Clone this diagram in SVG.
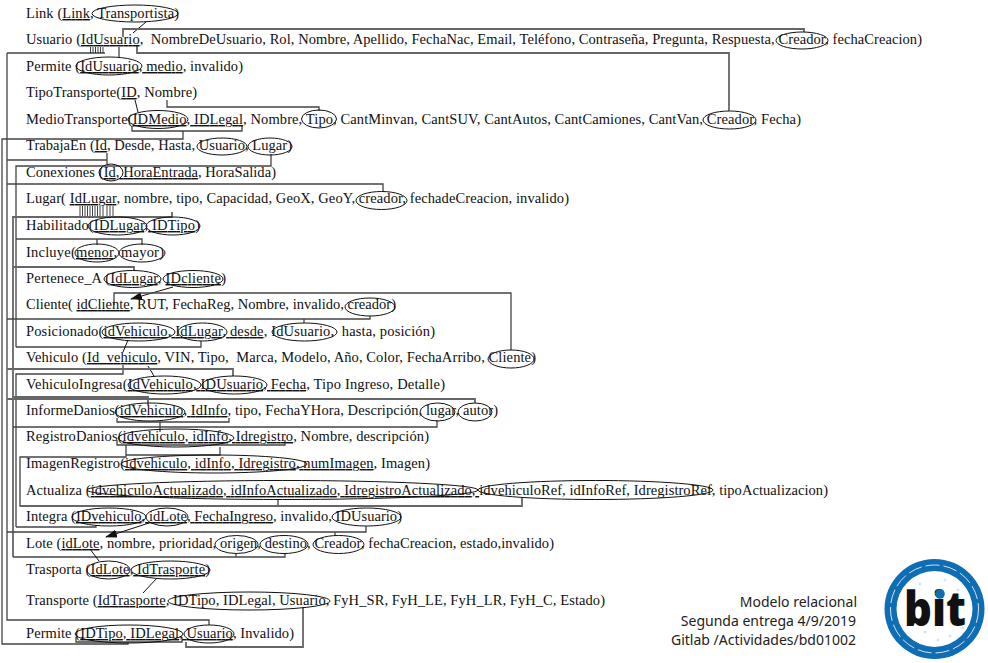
<svg xmlns="http://www.w3.org/2000/svg" width="988" height="663" viewBox="0 0 988 663">
<style>
text{font-family:"Liberation Serif","Times New Roman",serif;font-size:14.5px;fill:#111}
.u{text-decoration:underline}
ellipse{fill:none;stroke:#111;stroke-width:1}
.c path{fill:none;stroke:#444;stroke-width:1.3}
.c .k{stroke:#111;stroke-width:1}
.c .g{stroke:#666;stroke-width:1.8}
.c .h{stroke:#111;stroke-width:.8}
.n{font-family:"Noto Sans","Open Sans",sans-serif;font-size:14px;text-anchor:end;fill:#222}
.d{fill:#d5e6f3}
</style>
<defs><marker id="a" markerWidth="12" markerHeight="8" refX="11" refY="4" orient="auto" markerUnits="userSpaceOnUse"><path d="M0 0L12 4L0 8Z" fill="#111"/></marker></defs>
<rect width="988" height="663" fill="#fff"/>
<g class="c" id="connectors">
<path class="k" d="M146 22L133 33"/>
<path class="g" d="M123 37V29H804V32"/>
<path class="g" d="M137 45V53H729V111"/>
<path d="M7 53H105M7 53V620H209V625"/>
<path class="h" d="M90.5 47V53M93 47V53M95.5 47V53M98 47V53M100.5 47V53M103 47V53"/>
<path d="M119 47V57"/>
<path class="k" d="M135 100L138 112"/>
<path d="M167 100V107H319V111"/>
<path d="M132 126V131H242V126"/>
<path d="M183 131V139H2V644H128V642"/>
<path d="M7 160H107M107 153V164"/>
<path d="M16 347V166H271V154"/>
<path d="M7 184H383V192"/>
<path class="h" d="M80 206V216M82.5 206V216M85 206V216M87.5 206V216M90 206V216M92.5 206V216M95 206V216M97.5 206V216M100 206V216M103 206V216M107 206V216M110 206V216M113 206V216"/>
<path class="g" d="M13 557V217H172V212"/>
<path d="M16 239H142V245M97 239V245"/>
<path class="g" d="M13 267H134V270"/>
<path class="k" d="M173 287L131 299" marker-end="url(#a)"/>
<path d="M114 305V293H511V350"/>
<path d="M7 319H370V316M304 319V323"/>
<path d="M16 347H201V341"/>
<path class="k" d="M128 340L123 352"/>
<path d="M16 527V374H123V365"/>
<path class="k" d="M148 366L154 376"/>
<path class="g" d="M7 369H233V376"/>
<path class="g" d="M13 397H148V405"/>
<path class="g" d="M7 399H475V403"/>
<path d="M117 418V422H229V418"/>
<path d="M13 427H437V420M160 422V432"/>
<path d="M117 440V445H285V440"/>
<path d="M126 445V457H20V506H278V499"/>
<path d="M126 455H220V447"/>
<path class="g" d="M20 506H522V498"/>
<path d="M16 527H96V525"/>
<path d="M7 532H366V526M335 532V536"/>
<path class="k" d="M149 523L106 537" marker-end="url(#a)"/>
<path d="M13 557H285V553M236 557V553"/>
<path class="k" d="M90 549L99 561"/>
<path class="k" d="M157 578L143 593"/>
<path class="g" d="M303 607V647H186V642"/>
<path d="M76 637V642H182V637"/>
</g>
<g id="link"><text x="26" y="18" textLength="153">Link (<tspan class="u">Link</tspan>, Transportista)</text><ellipse cx="135" cy="13.5" rx="43" ry="8.5"/></g>
<g id="usuario"><text x="26" y="44" textLength="896" xml:space="preserve">Usuario (<tspan class="u">IdUsuario</tspan>,  NombreDeUsuario, Rol, Nombre, Apellido, FechaNac, Email, Teléfono, Contraseña, Pregunta, Respuesta, Creador, fechaCreacion)</text><ellipse cx="802" cy="40.5" rx="26" ry="8.5"/></g>
<g id="permite1"><text x="26" y="71" textLength="217">Permite (<tspan class="u">IdUsuario, medio</tspan>, invalido)</text><ellipse cx="109" cy="66" rx="33" ry="9"/></g>
<g id="tipotransporte"><text x="26" y="97" textLength="171">TipoTransporte(<tspan class="u">ID</tspan>, Nombre)</text></g>
<g id="mediotransporte"><text x="26" y="124" textLength="775">MedioTransporte(<tspan class="u">IDMedio, IDLegal</tspan>, Nombre, Tipo, CantMinvan, CantSUV, CantAutos, CantCamiones, CantVan, Creador, Fecha)</text><ellipse cx="158" cy="119.5" rx="30" ry="9"/><ellipse cx="319" cy="119" rx="17.5" ry="9"/><ellipse cx="729.5" cy="120" rx="26.5" ry="9"/></g>
<g id="trabajaen"><text x="26" y="150" textLength="266">TrabajaEn (<tspan class="u">Id</tspan>, Desde, Hasta, Usuario, Lugar)</text><ellipse cx="222" cy="146.5" rx="25" ry="8.5"/><ellipse cx="270" cy="146.5" rx="22" ry="8.5"/></g>
<g id="conexiones"><text x="26" y="177" textLength="250">Conexiones (<tspan class="u">Id, HoraEntrada</tspan>, HoraSalida)</text><ellipse cx="111" cy="172.5" rx="12" ry="8.5"/></g>
<g id="lugar"><text x="26" y="203" textLength="543">Lugar( <tspan class="u">IdLugar</tspan>, nombre, tipo, Capacidad, GeoX, GeoY, creador, fechadeCreacion, invalido)</text><ellipse cx="381.5" cy="200.5" rx="25.5" ry="9"/></g>
<g id="habilitado"><text x="26" y="230" textLength="174">Habilitado(<tspan class="u">IDLugar, IDTipo</tspan>)</text><ellipse cx="117.5" cy="226" rx="29.5" ry="9"/><ellipse cx="173" cy="226" rx="27" ry="9"/></g>
<g id="incluye"><text x="26" y="257" textLength="138">Incluye(<tspan class="u">menor</tspan>, mayor)</text><ellipse cx="97" cy="253" rx="22" ry="9"/><ellipse cx="142" cy="253" rx="23" ry="9"/></g>
<g id="pertenece"><text x="26" y="283" textLength="200">Pertenece_A (<tspan class="u">IdLugar</tspan>, <tspan class="u">IDcliente</tspan>)</text><ellipse cx="132.5" cy="279" rx="28.5" ry="8.5"/><ellipse cx="193" cy="279" rx="30" ry="8.5"/></g>
<g id="cliente"><text x="26" y="309" textLength="370">Cliente( <tspan class="u">idCliente</tspan>, RUT, FechaReg, Nombre, invalido, creador)</text><ellipse cx="370" cy="307" rx="25" ry="9"/></g>
<g id="posicionado"><text x="26" y="336" textLength="409" xml:space="preserve">Posicionado(<tspan class="u">idVehiculo, IdLugar, desde</tspan>, IdUsuario,  hasta, posición)</text><ellipse cx="138.5" cy="332" rx="36.5" ry="9"/><ellipse cx="202.5" cy="332" rx="24.5" ry="9"/><ellipse cx="304.5" cy="332" rx="32.5" ry="9"/></g>
<g id="vehiculo"><text x="26" y="362" textLength="510" xml:space="preserve">Vehiculo (<tspan class="u">Id_vehiculo</tspan>, VIN, Tipo,  Marca, Modelo, Año, Color, FechaArribo, Cliente)</text><ellipse cx="511" cy="359" rx="23" ry="9"/></g>
<g id="vehiculoingresa"><text x="26" y="389" textLength="419">VehiculoIngresa(<tspan class="u">IdVehiculo, IDUsuario, Fecha</tspan>, Tipo Ingreso, Detalle)</text><ellipse cx="164.5" cy="385" rx="36.5" ry="9"/><ellipse cx="234.5" cy="385" rx="32.5" ry="9"/></g>
<g id="informedanios"><text x="26" y="415" textLength="472">InformeDanios(<tspan class="u">idVehiculo, IdInfo</tspan>, tipo, FechaYHora, Descripción, lugar, autor)</text><ellipse cx="150" cy="412" rx="35" ry="9"/><ellipse cx="437.5" cy="412" rx="17.5" ry="9"/><ellipse cx="475" cy="412" rx="17" ry="9"/></g>
<g id="registrodanios"><text x="26" y="441" textLength="403">RegistroDanios(<tspan class="u">idvehiculo, idInfo, Idregistro</tspan>, Nombre, descripción)</text><ellipse cx="176" cy="438" rx="58" ry="9"/></g>
<g id="imagenregistro"><text x="26" y="468" textLength="404">ImagenRegistro(<tspan class="u">idvehiculo, idInfo, Idregistro, numImagen</tspan>, Imagen)</text><ellipse cx="214" cy="464" rx="93" ry="9"/></g>
<g id="actualiza"><text x="26" y="495" textLength="802">Actualiza (<tspan class="u">idvehiculoActualizado, idInfoActualizado, IdregistroActualizado, </tspan>idvehiculoRef, idInfoRef, IdregistroRef, tipoActualizacion)</text><ellipse cx="282.5" cy="490" rx="195.5" ry="9.5"/><ellipse cx="595.5" cy="490" rx="117.5" ry="9.5"/></g>
<g id="integra"><text x="26" y="521" textLength="376">Integra (<tspan class="u">IDvehiculo, idLote, FechaIngreso</tspan>, invalido, IDUsuario)</text><ellipse cx="109" cy="517" rx="37" ry="9"/><ellipse cx="167" cy="517" rx="21" ry="9"/><ellipse cx="366.5" cy="517" rx="34.5" ry="9"/></g>
<g id="lote"><text x="26" y="548" textLength="528">Lote (<tspan class="u">idLote</tspan>, nombre, prioridad, origen, destino, Creador, fechaCreacion, estado,invalido)</text><ellipse cx="236.5" cy="544.5" rx="21.5" ry="9"/><ellipse cx="284" cy="544.5" rx="24" ry="9"/><ellipse cx="338.5" cy="544.5" rx="25.5" ry="9"/></g>
<g id="trasporta"><text x="26" y="574" textLength="184">Trasporta (<tspan class="u">IdLote, IdTrasporte</tspan>)</text><ellipse cx="108.5" cy="570" rx="21.5" ry="9"/><ellipse cx="170.5" cy="570" rx="39.5" ry="9"/></g>
<g id="transporte"><text x="26" y="605" textLength="579">Transporte (<tspan class="u">IdTrasporte</tspan>, IDTipo, IDLegal, Usuario, FyH_SR, FyH_LE, FyH_LR, FyH_C, Estado)</text><ellipse cx="249" cy="601" rx="81" ry="9"/></g>
<g id="permite2"><text x="26" y="638" textLength="268">Permite (<tspan class="u">IDTipo, IDLegal, Usuario</tspan>, Invalido)</text><ellipse cx="129" cy="634" rx="54" ry="9"/><ellipse cx="209" cy="634" rx="25" ry="9"/></g>
<g id="nota"><text class="n" x="857" y="607">Modelo relacional</text><text class="n" x="856" y="626">Segunda entrega 4/9/2019</text><text class="n" x="856" y="645">Gitlab /Actividades/bd01002</text></g>
<g id="logo"><circle cx="934.5" cy="609" r="50" fill="#0f6db4"/><circle cx="934.5" cy="609" r="38" fill="#fff"/><circle cx="934.5" cy="609" r="44" fill="none" stroke="#cfe3f3" stroke-width="1" stroke-dasharray="14 4"/><circle class="d" cx="920" cy="584" r="1.5"/><circle class="d" cx="945" cy="580" r="1.5"/><circle class="d" cx="958" cy="590" r="1.5"/><circle class="d" cx="912" cy="595" r="1.5"/><circle class="d" cx="925" cy="632" r="1.5"/><circle class="d" cx="950" cy="636" r="1.5"/><circle class="d" cx="938" cy="640" r="1.5"/><circle class="d" cx="963" cy="628" r="1.5"/><text x="904" y="626" textLength="62" lengthAdjust="spacingAndGlyphs" style="font-family:'Open Sans','Liberation Sans',sans-serif;font-size:47px;font-weight:800;fill:#111">bit</text><circle cx="940" cy="594" r="4.8" fill="#0f6db4"/></g>
</svg>
